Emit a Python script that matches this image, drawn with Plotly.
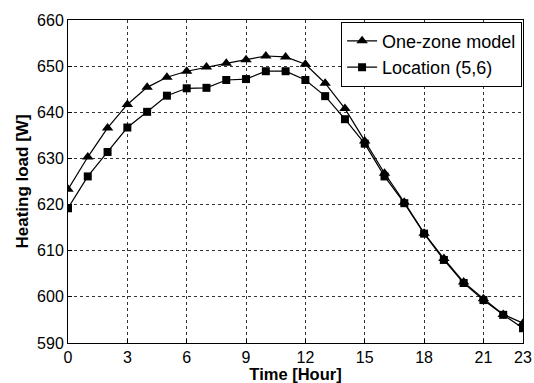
import plotly.graph_objects as go

hours = list(range(24))
one_zone = [623.3, 630.3, 636.6, 641.7, 645.4, 647.6, 648.9, 649.8, 650.6, 651.4,
            652.2, 652.0, 650.4, 646.3, 640.8, 633.8, 626.8, 620.5, 613.8, 608.3,
            603.2, 599.6, 596.2, 594.3]
location = [619.2, 626.1, 631.4, 636.7, 640.1, 643.6, 645.2, 645.3, 647.0, 647.2,
            648.9, 648.9, 647.0, 643.5, 638.5, 633.2, 626.1, 620.3, 613.7, 608.0,
            603.0, 599.3, 596.1, 593.2]
x_ticks = [0, 3, 6, 9, 12, 15, 18, 21, 23]
y_ticks = [590, 600, 610, 620, 630, 640, 650, 660]

fig = go.Figure()
fig.add_trace(go.Scatter(x=hours, y=one_zone, mode="lines+markers", name="One-zone model",
                         line=dict(color="black", width=1.2),
                         marker=dict(symbol="triangle-up", size=10, color="black")))
fig.add_trace(go.Scatter(x=hours, y=location, mode="lines+markers", name="Location (5,6)",
                         line=dict(color="black", width=1.2),
                         marker=dict(symbol="square", size=8, color="black")))

font = "Liberation Sans, Arial, sans-serif"
fig.update_layout(
    width=534, height=383,
    margin=dict(l=68, r=11, t=20, b=40, autoexpand=False),
    paper_bgcolor="white", plot_bgcolor="white",
    font=dict(family=font, size=16, color="black"),
    showlegend=True,
    legend=dict(x=0.998, y=0.995, xanchor="right", yanchor="top",
                bordercolor="black", borderwidth=1, bgcolor="white",
                font=dict(size=18, family=font), tracegroupgap=0,
                itemwidth=30),
    xaxis=dict(range=[0, 23], tickvals=x_ticks, showgrid=True,
               gridcolor="#333333", griddash="dot", gridwidth=1,
               showline=True, linecolor="black", linewidth=1, mirror=True,
               ticks="inside", ticklen=4, tickcolor="black", zeroline=False,
               automargin=False, tickfont=dict(size=16),
               title=dict(text="<b>Time [Hour]</b>", font=dict(size=16.5), standoff=2)),
    yaxis=dict(range=[590, 660], tickvals=y_ticks, showgrid=True,
               gridcolor="#333333", griddash="dot", gridwidth=1,
               showline=True, linecolor="black", linewidth=1, mirror=True,
               ticks="inside", ticklen=4, tickcolor="black", zeroline=False,
               automargin=False, tickfont=dict(size=16),
               title=dict(text="<b>Heating load [W]</b>", font=dict(size=17), standoff=4)),
)
fig.write_html("out.html", config={"displayModeBar": False},
               post_script="document.body.style.margin='0px';")
